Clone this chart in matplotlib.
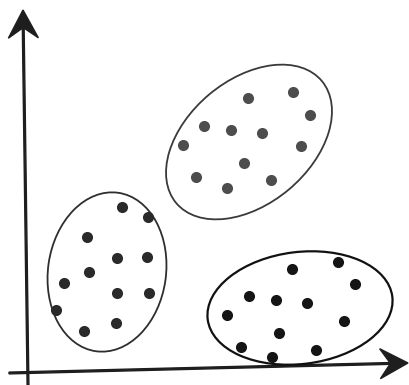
import matplotlib
matplotlib.use("Agg")
import matplotlib.pyplot as plt
from matplotlib.patches import Ellipse

# dot positions (pixel coords, y down)
top_x = [248, 293, 310, 204, 231, 262, 183, 301, 244, 196, 271, 227]
top_y = [98, 92, 115, 126, 130, 133, 145, 146, 163, 177, 180, 188]

left_x = [122, 148, 87, 117, 147, 89, 64, 117, 149, 56, 116, 84]
left_y = [207, 217, 237, 258, 257, 272, 283, 293, 293, 310, 323, 331]

right_x = [292, 338, 355, 249, 276, 307, 227, 344, 279, 241, 316, 272]
right_y = [269, 262, 284, 296, 300, 303, 315, 321, 333, 347, 350, 357]

# cluster outlines: centre x, centre y, width, height, angle
outlines = [
    (249, 142, 190, 124, -40, "#3a3a3a", 1.3),
    (107, 272, 118, 160, 8, "#2e2e2e", 1.3),
    (300, 308, 186, 112, -7, "#111111", 1.6),
]

fig = plt.figure(figsize=(4.09, 3.85), dpi=100)
ax = fig.add_axes([0, 0, 1, 1])
ax.set_xlim(0, 409)
ax.set_ylim(385, 0)
ax.axis("off")

for cx, cy, w, h, ang, col, lw in outlines:
    ax.add_patch(Ellipse((cx, cy), w, h, angle=ang, fill=False,
                         edgecolor=col, linewidth=lw, zorder=2))

ax.scatter(top_x, top_y, s=64, color="#4d4d4d", zorder=3, linewidths=0)
ax.scatter(left_x, left_y, s=64, color="#2a2a2a", zorder=3, linewidths=0)
ax.scatter(right_x, right_y, s=64, color="#151515", zorder=3, linewidths=0)

# axes with arrow heads
ax.arrow(28, 385, -5, -375, width=1.8, head_width=30, head_length=28,
         overhang=0.35, length_includes_head=True, color="#1e1e1e", zorder=1)
ax.arrow(9, 373, 399, -10, width=1.8, head_width=30, head_length=28,
         overhang=0.35, length_includes_head=True, color="#1e1e1e", zorder=1)

fig.savefig("out.png", dpi=100, facecolor="white")
